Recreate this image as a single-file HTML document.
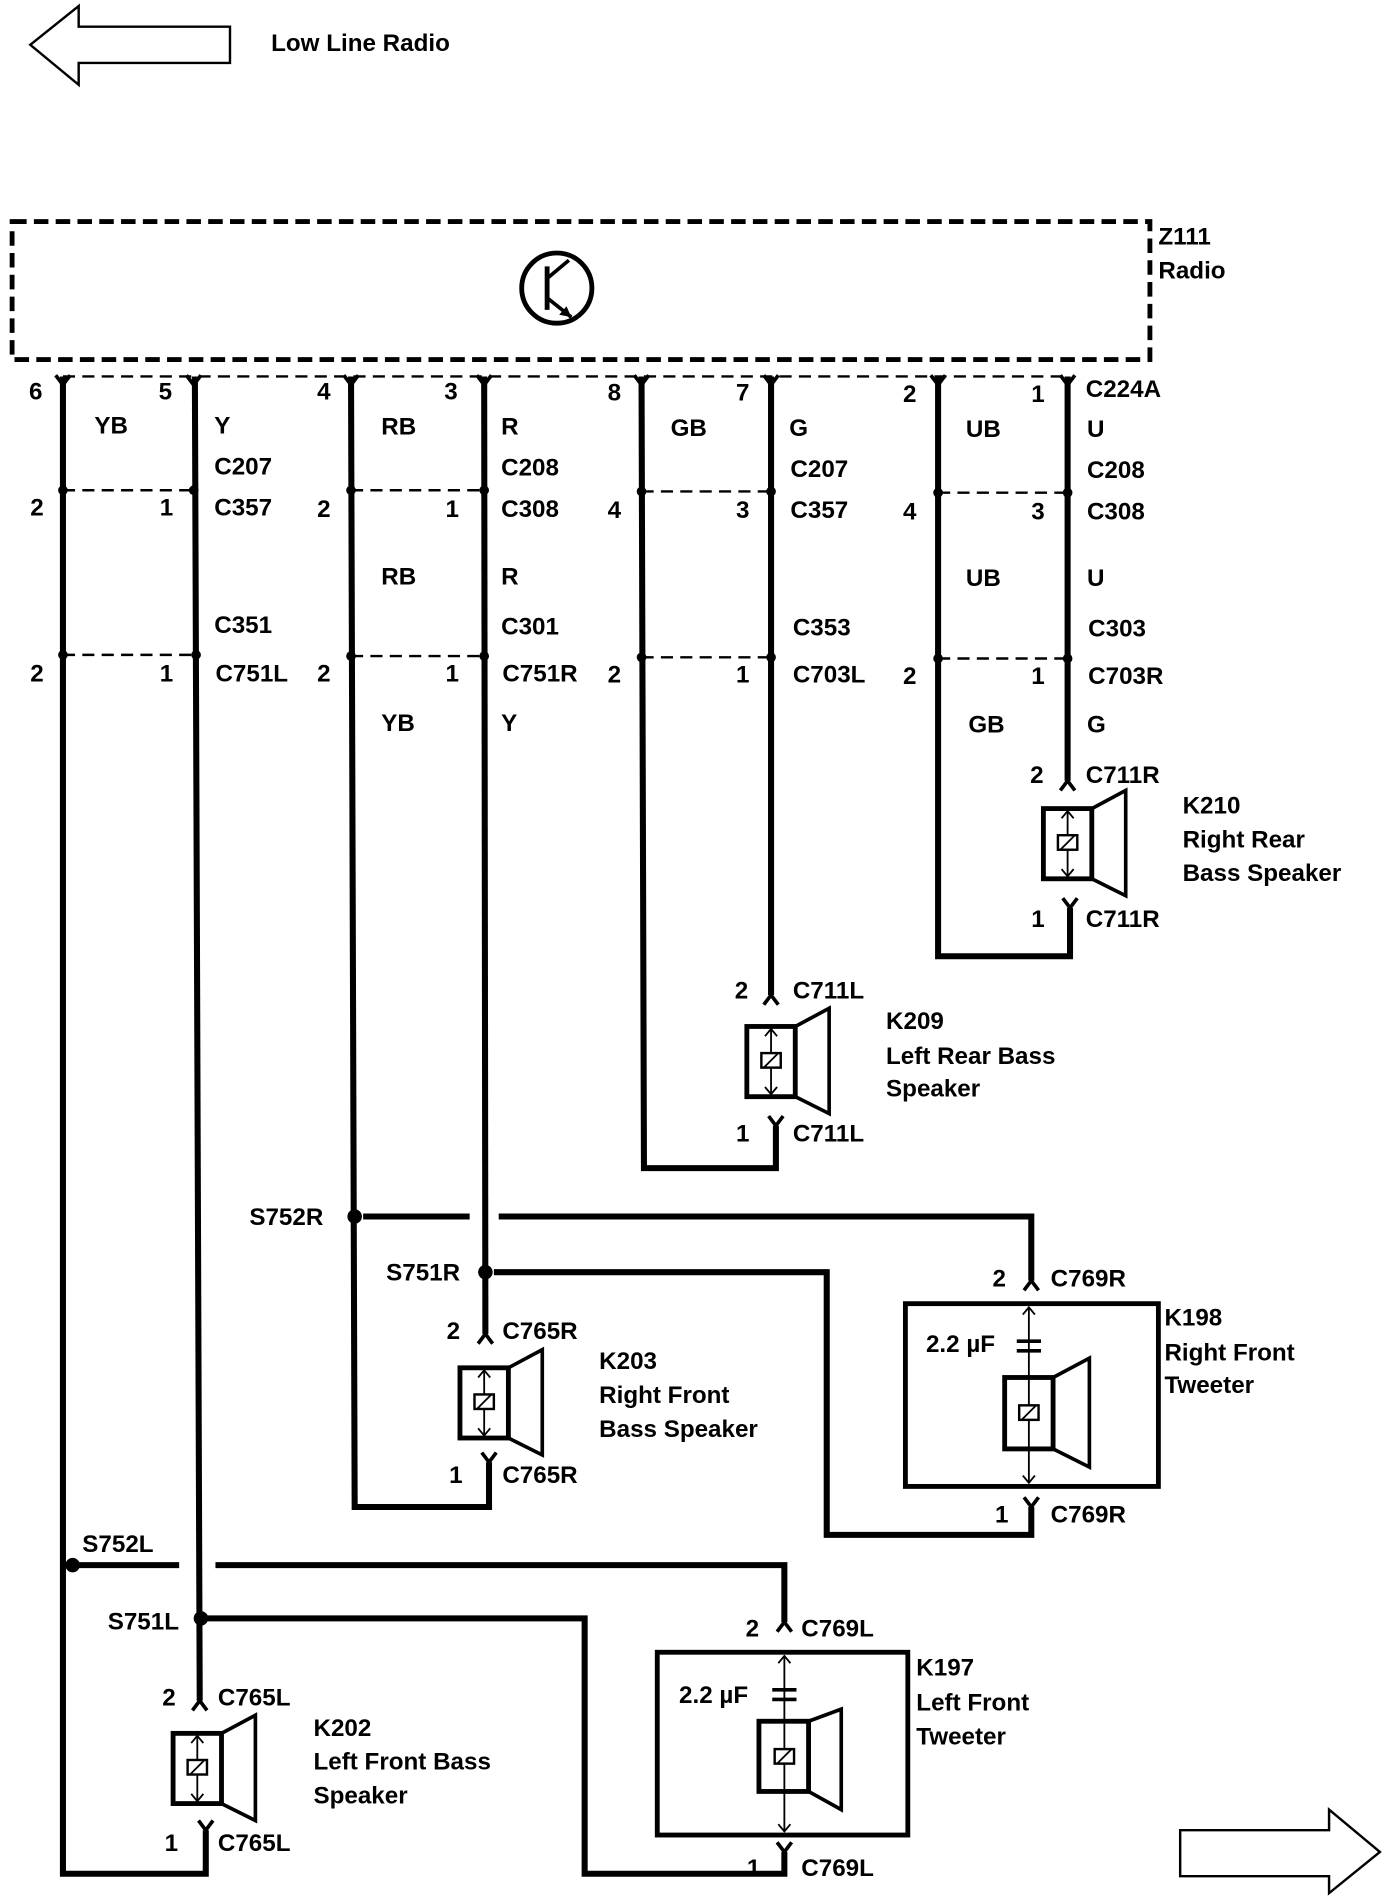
<!DOCTYPE html>
<html><head><style>
html,body{margin:0;padding:0;background:#fff}
svg{display:block}
text{font-family:"Liberation Sans",sans-serif;font-weight:bold;font-size:20px;fill:#000}
</style></head><body>
<svg width="1392" height="1898" viewBox="0 0 1150 1568" xmlns="http://www.w3.org/2000/svg">
<polygon points="25,37 65,5 65,22 190,22 190,52 65,52 65,70" fill="none" stroke="#000" stroke-width="2"/>
<text x="224" y="42">Low Line Radio</text>
<polygon points="1140,1530 1098,1495 1098,1512 975,1512 975,1550 1098,1550 1098,1564" fill="none" stroke="#000" stroke-width="2"/>

<rect x="10" y="183" width="940" height="114" fill="none" stroke="#000" stroke-width="4" stroke-dasharray="12,6"/>
<circle cx="460" cy="238" r="29" fill="none" stroke="#000" stroke-width="4"/>
<line x1="452" y1="220" x2="452" y2="256" stroke="#000" stroke-width="4"/>
<line x1="452" y1="230" x2="470" y2="215" stroke="#000" stroke-width="3"/>
<line x1="452" y1="246" x2="472" y2="262" stroke="#000" stroke-width="3"/>
<polygon points="472,262 462,260 468,253" fill="#000"/>
<text x="957" y="202">Z111</text>
<text x="957" y="230">Radio</text>

<g stroke="#000" stroke-width="2" stroke-dasharray="10,6">
<line x1="52" y1="311" x2="882" y2="311"/>
<line x1="52" y1="405" x2="160" y2="405"/><line x1="290" y1="405" x2="400" y2="405"/>
<line x1="530" y1="406" x2="637" y2="406"/><line x1="775" y1="407" x2="882" y2="407"/>
<line x1="52" y1="541" x2="160" y2="541"/><line x1="290" y1="542" x2="400" y2="542"/>
<line x1="530" y1="543" x2="637" y2="543"/><line x1="775" y1="544" x2="882" y2="544"/>
</g>

<g stroke="#000" stroke-width="5" fill="none" stroke-linejoin="miter">
<polyline points="52,311 52,1548 170,1548 170,1512"/>
<line x1="161" y1="311" x2="165" y2="1405"/>
<polyline points="170,1337 483,1337 483,1548 648,1548 648,1530"/>
<polyline points="60,1293 148,1293"/><polyline points="178,1293 648,1293 648,1340"/>
<polyline points="290,311 293,1245 404,1245 404,1208"/>
<line x1="400" y1="311" x2="401" y2="1102"/>
<polyline points="300,1005 388,1005"/><polyline points="412,1005 852,1005 852,1058"/>
<polyline points="408,1051 683,1051 683,1268 852,1268 852,1245"/>
<polyline points="530,311 532,965 641,965 641,930"/>
<line x1="637" y1="311" x2="637" y2="822"/>
<polyline points="775,311 775,790 884,790 884,750"/>
<line x1="882" y1="311" x2="882" y2="645"/>
</g>
<!-- terminal forks -->
<g stroke="#000" stroke-width="3" fill="none">
<path d="M46,310 L52,318 L58,310"/><path d="M154,310 L160,318 L166,310"/>
<path d="M284,310 L290,318 L296,310"/><path d="M394,310 L400,318 L406,310"/>
<path d="M524,310 L530,318 L536,310"/><path d="M631,310 L637,318 L643,310"/>
<path d="M769,310 L775,318 L781,310"/><path d="M876,310 L882,318 L888,310"/>
<!-- pin2 carets -->
<path d="M876,653 L882,645 L888,653"/>
<path d="M631,830 L637,822 L643,830"/>
<path d="M395,1110 L401,1102 L407,1110"/>
<path d="M159,1413 L165,1405 L171,1413"/>
<path d="M846,1066 L852,1058 L858,1066"/>
<path d="M642,1348 L648,1340 L654,1348"/>
<!-- pin1 Vs -->
<path d="M878,742 L884,750 L890,742"/>
<path d="M635,922 L641,930 L647,922"/>
<path d="M398,1200 L404,1208 L410,1200"/>
<path d="M164,1504 L170,1512 L176,1504"/>
<path d="M846,1237 L852,1245 L858,1237"/>
<path d="M642,1522 L648,1530 L654,1522"/>
</g>
<g fill="#000">
<circle cx="52" cy="405" r="4"/><circle cx="160" cy="405" r="4"/><circle cx="290" cy="405" r="4"/><circle cx="400" cy="405" r="4"/>
<circle cx="530" cy="406" r="4"/><circle cx="637" cy="406" r="4"/><circle cx="775" cy="407" r="4"/><circle cx="882" cy="407" r="4"/>
<circle cx="52" cy="541" r="4"/><circle cx="162" cy="541" r="4"/><circle cx="290" cy="542" r="4"/><circle cx="400" cy="542" r="4"/>
<circle cx="530" cy="543" r="4"/><circle cx="637" cy="543" r="4"/><circle cx="775" cy="544" r="4"/><circle cx="882" cy="544" r="4"/>
<circle cx="60" cy="1293" r="6"/><circle cx="166" cy="1337" r="6"/><circle cx="293" cy="1005" r="6"/><circle cx="401" cy="1051" r="6"/>
</g>

<defs>
<g id="spk">
<rect x="-20" y="0" width="40" height="58" fill="none" stroke="#000" stroke-width="4"/>
<polygon points="20,0 48,-15 48,72 20,58" fill="none" stroke="#000" stroke-width="3"/>
<line x1="0" y1="2" x2="0" y2="56" stroke="#000" stroke-width="1.5"/>
<rect x="-8" y="22" width="16" height="12" fill="#fff" stroke="#000" stroke-width="2"/>
<line x1="-6" y1="34" x2="6" y2="22" stroke="#000" stroke-width="1.5"/>
<path d="M-5,8 L0,2 L5,8 M-5,50 L0,56 L5,50" stroke="#000" stroke-width="1.5" fill="none"/>
</g>
</defs>
<use href="#spk" x="882" y="668"/>
<use href="#spk" x="637" y="848"/>
<use href="#spk" x="400" y="1130"/>
<use href="#spk" x="163" y="1432"/>

<g stroke="#000" fill="none">
<rect x="748" y="1077" width="209" height="151" stroke-width="4"/>
<line x1="850" y1="1080" x2="850" y2="1225" stroke-width="1.5"/>
<path d="M845,1086 L850,1080 L855,1086 M845,1219 L850,1225 L855,1219" stroke-width="1.5"/>
<rect x="830" y="1138" width="40" height="59" stroke-width="4" fill="#fff"/>
<polygon points="870,1138 900,1122 900,1212 870,1197" stroke-width="3"/>
<line x1="840" y1="1108" x2="860" y2="1108" stroke-width="3"/><line x1="840" y1="1116" x2="860" y2="1116" stroke-width="3"/>
<line x1="850" y1="1140" x2="850" y2="1195" stroke-width="1.5"/>
<rect x="842" y="1161" width="16" height="12" fill="#fff" stroke-width="2"/>
<line x1="844" y1="1173" x2="856" y2="1161" stroke-width="1.5"/>

<rect x="543" y="1365" width="207" height="151" stroke-width="4"/>
<line x1="648" y1="1368" x2="648" y2="1513" stroke-width="1.5"/>
<path d="M643,1374 L648,1368 L653,1374 M643,1507 L648,1513 L653,1507" stroke-width="1.5"/>
<rect x="627" y="1422" width="41" height="58" stroke-width="4" fill="#fff"/>
<polygon points="668,1422 695,1412 695,1495 668,1480" stroke-width="3"/>
<line x1="638" y1="1396" x2="658" y2="1396" stroke-width="3"/><line x1="638" y1="1404" x2="658" y2="1404" stroke-width="3"/>
<line x1="648" y1="1424" x2="648" y2="1478" stroke-width="1.5"/>
<rect x="640" y="1445" width="16" height="12" fill="#fff" stroke-width="2"/>
<line x1="642" y1="1457" x2="654" y2="1445" stroke-width="1.5"/>
</g>

<text x="24" y="330">6</text><text x="131" y="330">5</text><text x="262" y="330">4</text><text x="367" y="330">3</text>
<text x="502" y="331">8</text><text x="608" y="331">7</text><text x="746" y="332">2</text><text x="852" y="332">1</text>
<text x="897" y="328">C224A</text>
<text x="78" y="358">YB</text><text x="177" y="358">Y</text><text x="315" y="359">RB</text><text x="414" y="359">R</text>
<text x="554" y="360">GB</text><text x="652" y="360">G</text><text x="798" y="361">UB</text><text x="898" y="361">U</text>
<text x="177" y="392">C207</text><text x="414" y="393">C208</text><text x="653" y="394">C207</text><text x="898" y="395">C208</text>
<text x="25" y="426">2</text><text x="132" y="426">1</text><text x="177" y="426">C357</text>
<text x="262" y="427">2</text><text x="368" y="427">1</text><text x="414" y="427">C308</text>
<text x="502" y="428">4</text><text x="608" y="428">3</text><text x="653" y="428">C357</text>
<text x="746" y="429">4</text><text x="852" y="429">3</text><text x="898" y="429">C308</text>
<text x="315" y="483">RB</text><text x="414" y="483">R</text><text x="798" y="484">UB</text><text x="898" y="484">U</text>
<text x="177" y="523">C351</text><text x="414" y="524">C301</text><text x="655" y="525">C353</text><text x="899" y="526">C303</text>
<text x="25" y="563">2</text><text x="132" y="563">1</text><text x="178" y="563">C751L</text>
<text x="262" y="563">2</text><text x="368" y="563">1</text><text x="415" y="563">C751R</text>
<text x="502" y="564">2</text><text x="608" y="564">1</text><text x="655" y="564">C703L</text>
<text x="746" y="565">2</text><text x="852" y="565">1</text><text x="899" y="565">C703R</text>
<text x="315" y="604">YB</text><text x="414" y="604">Y</text><text x="800" y="605">GB</text><text x="898" y="605">G</text>

<text x="851" y="647">2</text><text x="897" y="647">C711R</text>
<text x="977" y="672">K210</text><text x="977" y="700">Right Rear</text><text x="977" y="728">Bass Speaker</text>
<text x="852" y="766">1</text><text x="897" y="766">C711R</text>
<text x="607" y="825">2</text><text x="655" y="825">C711L</text>
<text x="732" y="850">K209</text><text x="732" y="879">Left Rear Bass</text><text x="732" y="906">Speaker</text>
<text x="608" y="943">1</text><text x="655" y="943">C711L</text>
<text x="206" y="1012">S752R</text><text x="319" y="1058">S751R</text>
<text x="820" y="1063">2</text><text x="868" y="1063">C769R</text>
<text x="962" y="1095">K198</text><text x="962" y="1124">Right Front</text><text x="962" y="1151">Tweeter</text>
<text x="765" y="1117">2.2 µF</text>
<text x="369" y="1106">2</text><text x="415" y="1106">C765R</text>
<text x="495" y="1131">K203</text><text x="495" y="1159">Right Front</text><text x="495" y="1187">Bass Speaker</text>
<text x="371" y="1225">1</text><text x="415" y="1225">C765R</text>
<text x="822" y="1258">1</text><text x="868" y="1258">C769R</text>
<text x="68" y="1282">S752L</text><text x="89" y="1346">S751L</text>
<text x="616" y="1352">2</text><text x="662" y="1352">C769L</text>
<text x="757" y="1384">K197</text><text x="757" y="1413">Left Front</text><text x="757" y="1441">Tweeter</text>
<text x="561" y="1407">2.2 µF</text>
<text x="134" y="1409">2</text><text x="180" y="1409">C765L</text>
<text x="259" y="1434">K202</text><text x="259" y="1462">Left Front Bass</text><text x="259" y="1490">Speaker</text>
<text x="136" y="1529">1</text><text x="180" y="1529">C765L</text>
<text x="617" y="1550">1</text><text x="662" y="1550">C769L</text>
</svg>
</body></html>
